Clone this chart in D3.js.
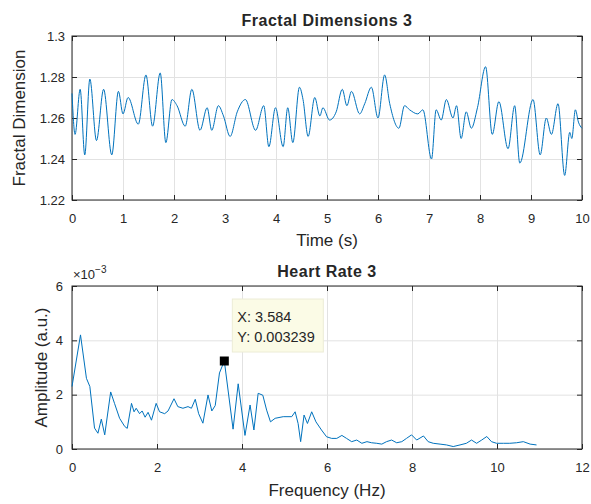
<!DOCTYPE html>
<html>
<head>
<meta charset="utf-8">
<script src="https://cdn.jsdelivr.net/npm/d3@7"></script>
<style>
  body { margin: 0; background: #fff; }
  svg text { font-family: "Liberation Sans", Arial, Helvetica, sans-serif; fill: #262626; }
  .tick line { stroke: #262626; }
  .grid .tick line { stroke: #e2e2e2; }
</style>
</head>
<body>
<div id="chart"></div>
<script>
// fractal dimension over time (local peaks and dips)
var fdTime = [0, 0.06, 0.16, 0.25, 0.35, 0.48, 0.62, 0.78, 0.91, 1.0, 1.1, 1.3, 1.45, 1.58, 1.73, 1.84,
  1.96, 2.06, 2.22, 2.35, 2.51, 2.65, 2.74, 2.87, 2.97, 3.1, 3.24, 3.4, 3.6, 3.76, 3.86, 3.99, 4.14,
  4.23, 4.33, 4.46, 4.53, 4.63, 4.76, 4.86, 4.92, 5.05, 5.18, 5.3, 5.39, 5.48, 5.64, 5.74, 5.87, 6.0,
  6.13, 6.23, 6.41, 6.52, 6.62, 6.78, 6.88, 7.05, 7.14, 7.24, 7.34, 7.47, 7.54, 7.63, 7.73, 7.83,
  7.95, 8.11, 8.24, 8.37, 8.55, 8.68, 8.78, 9.04, 9.18, 9.3, 9.4, 9.53, 9.66, 9.76, 9.8, 9.87, 9.93, 10.0];
var fdValue = [1.272, 1.252, 1.274, 1.242, 1.279, 1.249, 1.274, 1.242, 1.273, 1.262, 1.270, 1.257, 1.281,
  1.256, 1.282, 1.248, 1.269, 1.266, 1.256, 1.274, 1.254, 1.265, 1.254, 1.266, 1.261, 1.251, 1.263,
  1.269, 1.254, 1.266, 1.246, 1.265, 1.246, 1.265, 1.248, 1.275, 1.269, 1.251, 1.270, 1.261, 1.265,
  1.259, 1.263, 1.274, 1.266, 1.273, 1.262, 1.267, 1.275, 1.260, 1.281, 1.267, 1.255, 1.266, 1.264,
  1.262, 1.264, 1.240, 1.264, 1.259, 1.269, 1.260, 1.266, 1.250, 1.263, 1.255, 1.265, 1.285, 1.252,
  1.268, 1.245, 1.266, 1.238, 1.269, 1.242, 1.260, 1.252, 1.267, 1.232, 1.253, 1.250, 1.264, 1.258, 1.255];

// heart rate spectrum
var hrFreq = [0, 0.2, 0.34, 0.42, 0.53, 0.61, 0.69, 0.77, 0.91, 1.0, 1.12, 1.24, 1.3, 1.4, 1.46, 1.51,
  1.59, 1.65, 1.72, 1.79, 1.87, 1.98, 2.06, 2.18, 2.26, 2.4, 2.49, 2.61, 2.73, 2.81, 2.9, 2.98, 3.08,
  3.2, 3.29, 3.37, 3.47, 3.584, 3.79, 3.91, 4.07, 4.19, 4.28, 4.38, 4.49, 4.58, 4.67, 4.78, 4.97, 5.17,
  5.25, 5.32, 5.38, 5.46, 5.54, 5.64, 5.74, 5.87, 5.99, 6.11, 6.23, 6.35, 6.46, 6.58, 6.7, 6.82, 6.94,
  7.05, 7.17, 7.29, 7.4, 7.52, 7.64, 7.76, 7.87, 7.99, 8.11, 8.27, 8.38, 8.5, 8.66, 8.81, 8.97, 9.13,
  9.28, 9.4, 9.52, 9.64, 9.76, 9.87, 9.99, 10.15, 10.3, 10.46, 10.62, 10.78, 10.93];
var hrAmp = [0.0023, 0.0042, 0.0026, 0.0023, 0.00077, 0.00058, 0.0011, 0.00052, 0.0021, 0.00168, 0.00113,
  0.00083, 0.00076, 0.00168, 0.00137, 0.0015, 0.0013, 0.0014, 0.00117, 0.00135, 0.00106, 0.00168,
  0.00137, 0.0013, 0.0014, 0.00185, 0.00156, 0.0015, 0.00156, 0.0015, 0.00183, 0.0013, 0.00095, 0.00199,
  0.0014, 0.0016, 0.0028, 0.003239, 0.00073, 0.0024, 0.0005, 0.00162, 0.0007, 0.00205, 0.00198, 0.00143,
  0.001, 0.00113, 0.00119, 0.00119, 0.00137, 0.00094, 0.00027, 0.00125, 0.00094, 0.00137, 0.001, 0.0007,
  0.00045, 0.00039, 0.00039, 0.0005, 0.00039, 0.00027, 0.00033, 0.00021, 0.00027, 0.00023, 0.00021,
  0.00018, 0.00027, 0.00033, 0.00023, 0.00027, 0.00039, 0.00052, 0.00033, 0.00048, 0.00027, 0.00021,
  0.00018, 0.00015, 0.00009, 0.00015, 0.00021, 0.00033, 0.00021, 0.00033, 0.00046, 0.00027, 0.00021,
  0.00021, 0.00021, 0.00023, 0.00027, 0.00018, 0.00015];

// tick values
var fdXTicks = [0, 1, 2, 3, 4, 5, 6, 7, 8, 9, 10];
var fdYTicks = [1.22, 1.24, 1.26, 1.28, 1.3];
var hrXTicks = [0, 2, 4, 6, 8, 10, 12];
var hrYTicks = [0, 0.002, 0.004, 0.006];

// data tip
var tipX = 3.584;
var tipY = 0.003239;

var width = 591;
var height = 504;
var lineColor = '#0072BD';
var fontFamily = '"Liberation Sans", Arial, Helvetica, sans-serif';

var svg = d3.select('#chart')
  .append('svg')
  .attr('width', width)
  .attr('height', height);

// draws one matlab style axes box, returns the group and scales
function makeAxes(opt) {
  var w = opt.right - opt.left;
  var h = opt.bottom - opt.top;
  var x = d3.scaleLinear().domain(opt.xDomain).range([0, w]);
  var y = d3.scaleLinear().domain(opt.yDomain).range([h, 0]);

  var g = svg.append('g')
    .attr('transform', 'translate(' + opt.left + ',' + opt.top + ')');

  g.append('rect')
    .attr('width', w)
    .attr('height', h)
    .attr('fill', '#fff');

  // grid
  g.append('g')
    .attr('class', 'grid')
    .attr('transform', 'translate(0,' + h + ')')
    .call(d3.axisBottom(x).tickValues(opt.xTicks).tickSize(h).tickFormat(''))
    .call(function(s) { s.select('.domain').remove(); })
    .selectAll('line').attr('y2', -h);
  g.append('g')
    .attr('class', 'grid')
    .call(d3.axisLeft(y).tickValues(opt.yTicks).tickSize(-w).tickFormat(''))
    .call(function(s) { s.select('.domain').remove(); });

  // ticks pointing inwards on all four sides
  var xb = g.append('g')
    .attr('transform', 'translate(0,' + h + ')')
    .call(d3.axisBottom(x).tickValues(opt.xTicks).tickSizeInner(-5).tickSizeOuter(0)
      .tickPadding(14).tickFormat(d3.format('d')));
  var yl = g.append('g')
    .call(d3.axisLeft(y).tickValues(opt.yTicks).tickSizeInner(-5).tickSizeOuter(0)
      .tickPadding(opt.yPad).tickFormat(opt.yFormat));
  g.append('g')
    .call(d3.axisTop(x).tickValues(opt.xTicks).tickSizeInner(-5).tickSizeOuter(0).tickFormat(''));
  g.append('g')
    .attr('transform', 'translate(' + w + ',0)')
    .call(d3.axisRight(y).tickValues(opt.yTicks).tickSizeInner(-5).tickSizeOuter(0).tickFormat(''));

  g.selectAll('.domain').remove();
  [xb, yl].forEach(function(a) {
    a.selectAll('text')
      .style('font-family', fontFamily)
      .style('font-size', '13px')
      .attr('fill', '#404040');
  });

  // box
  g.append('rect')
    .attr('width', w)
    .attr('height', h)
    .attr('fill', 'none')
    .attr('stroke', '#262626')
    .attr('stroke-width', 1);

  // title
  g.append('text')
    .attr('x', w / 2)
    .attr('y', -opt.titleGap)
    .attr('text-anchor', 'middle')
    .style('font-size', '16px')
    .style('font-weight', 'bold')
    .style('letter-spacing', '0.5px')
    .attr('fill', '#000')
    .text(opt.title);

  // axis labels
  g.append('text')
    .attr('x', w / 2)
    .attr('y', h + opt.xLabelGap)
    .attr('text-anchor', 'middle')
    .style('font-size', '17px')
    .attr('fill', '#404040')
    .text(opt.xLabel);
  g.append('text')
    .attr('transform', 'translate(' + (-opt.yLabelGap) + ',' + (h / 2) + ') rotate(-90)')
    .attr('text-anchor', 'middle')
    .style('font-size', '17px')
    .attr('fill', '#404040')
    .text(opt.yLabel);

  return { g: g, x: x, y: y, w: w, h: h };
}

// top chart
var top1 = makeAxes({
  left: 72, right: 582, top: 36, bottom: 200,
  xDomain: [0, 10], yDomain: [1.22, 1.3],
  xTicks: fdXTicks, yTicks: fdYTicks,
  yFormat: function(d) { return d3.format('.2f')(d).replace(/0$/, ''); },
  yPad: 7, titleGap: 10, xLabelGap: 46, yLabelGap: 47,
  title: 'Fractal Dimensions 3', xLabel: 'Time (s)', yLabel: 'Fractal Dimension'
});

var fdLine = d3.line()
  .x(function(d, i) { return top1.x(fdTime[i]); })
  .y(function(d) { return top1.y(d); })
  .curve(d3.curveMonotoneX);

top1.g.append('path')
  .datum(fdValue)
  .attr('d', fdLine)
  .attr('fill', 'none')
  .attr('stroke', lineColor)
  .attr('stroke-width', 1);

// bottom chart
var bot = makeAxes({
  left: 72, right: 582, top: 286, bottom: 449,
  xDomain: [0, 12], yDomain: [0, 0.006],
  xTicks: hrXTicks, yTicks: hrYTicks,
  yFormat: function(d) { return Math.round(d * 1000); },
  yPad: 9, titleGap: 9, xLabelGap: 47, yLabelGap: 25,
  title: 'Heart Rate 3', xLabel: 'Frequency (Hz)', yLabel: 'Amplitude (a.u.)'
});

// exponent label
var expo = bot.g.append('text')
  .attr('x', 1)
  .attr('y', -7)
  .style('font-size', '13px')
  .attr('fill', '#404040');
expo.append('tspan').text('\u00d710');
expo.append('tspan').attr('dy', -6).style('font-size', '10px').text('\u22123');

var hrLine = d3.line()
  .x(function(d, i) { return bot.x(hrFreq[i]); })
  .y(function(d) { return bot.y(d); });

bot.g.append('path')
  .datum(hrAmp)
  .attr('d', hrLine)
  .attr('fill', 'none')
  .attr('stroke', lineColor)
  .attr('stroke-width', 1);

// data tip
var mx = bot.x(tipX);
var my = bot.y(tipY);
bot.g.append('rect')
  .attr('x', mx - 4.5)
  .attr('y', my - 4.5)
  .attr('width', 9)
  .attr('height', 9)
  .attr('fill', '#000');

var tip = bot.g.append('g')
  .attr('transform', 'translate(' + (mx + 8) + ',' + (my - 62) + ')');
tip.append('rect')
  .attr('width', 91)
  .attr('height', 53)
  .attr('fill', '#fbfbe6')
  .attr('stroke', '#ececd6');
tip.append('text')
  .attr('x', 5)
  .attr('y', 23)
  .style('font-size', '14.5px')
  .attr('fill', '#222')
  .text('X: ' + tipX);
tip.append('text')
  .attr('x', 5)
  .attr('y', 43)
  .style('font-size', '14.5px')
  .attr('fill', '#222')
  .text('Y: ' + tipY);
</script>
</body>
</html>
